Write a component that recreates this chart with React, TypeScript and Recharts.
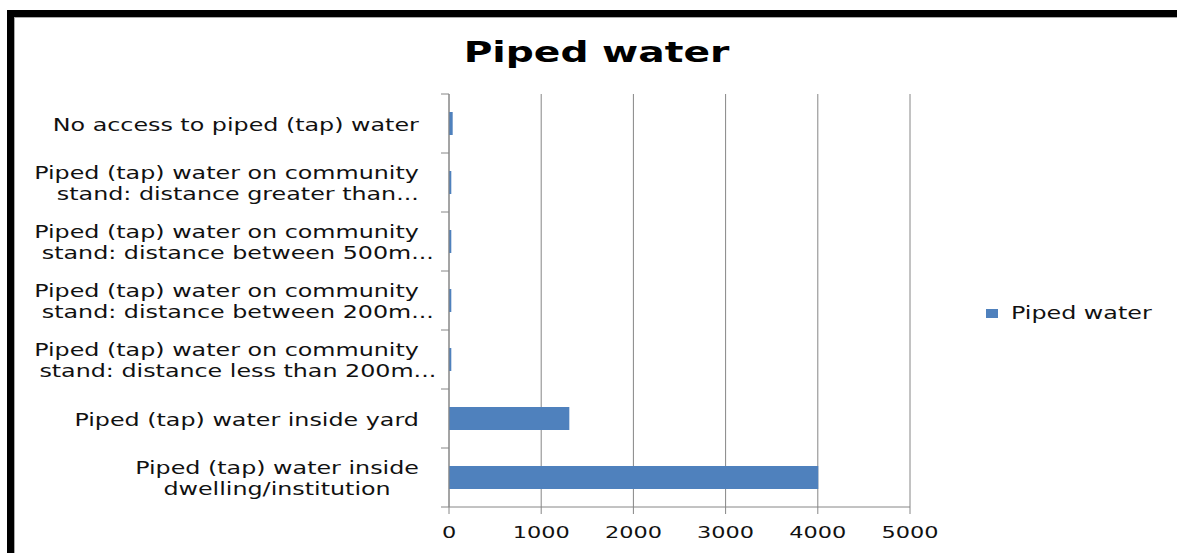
import { BarChart, Bar, XAxis, YAxis, CartesianGrid, Legend } from 'recharts';

// categories top to bottom, as they appear on the chart
const categories = [
  'No access to piped (tap) water',
  'Piped (tap) water on community\nstand: distance greater than...',
  'Piped (tap) water on community\nstand: distance between 500m...',
  'Piped (tap) water on community\nstand: distance between 200m...',
  'Piped (tap) water on community\nstand: distance less than 200m...',
  'Piped (tap) water inside yard',
  'Piped (tap) water inside\ndwelling/institution',
];
const pipedWater = [40, 25, 25, 25, 25, 1305, 4005];
const xTicks = [0, 1000, 2000, 3000, 4000, 5000];

const data = categories.map((name, i) => ({ name, value: pipedWater[i] }));

const BLUE = '#4F81BD';
const AXIS = '#868686';
const FONT = '"DejaVu Sans", sans-serif';
const SX = 1.4; // the source picture is stretched sideways

let ctx: CanvasRenderingContext2D | null = null;
function textWidth(s: string, size: number) {
  if (!ctx) ctx = document.createElement('canvas').getContext('2d');
  if (!ctx) return s.length * size * 0.6;
  ctx.font = `${size}px "DejaVu Sans"`;
  return ctx.measureText(s).width;
}

// width of a line as Excel centres it: a cut-off "..." tail is left out
const coreWidth = (l: string) => textWidth(l.replace(/\.\.\.$/, ''), 17) * SX;

function CategoryTick(props: any) {
  const { x, y, payload, index } = props;
  const half = payload.offset ?? 29.5;
  const lines = String(payload.value).split('\n');
  const right = x - 30;
  const maxW = Math.max(...lines.map(coreWidth));
  const cx = right - maxW / 2;
  const first = y + 7 - (lines.length - 1) * 10.5;
  return (
    <g>
      <line x1={x - 8} x2={x} y1={y - half} y2={y - half} stroke={AXIS} />
      {index === categories.length - 1 && (
        <line x1={x - 8} x2={x} y1={y + half} y2={y + half} stroke={AXIS} />
      )}
      {lines.map((l, i) => (
        <text
          key={i}
          transform={`translate(${cx - coreWidth(l) / 2},${first + i * 21}) scale(${SX},1)`}
          textAnchor="start"
          fontFamily={FONT}
          fontSize={17}
          fill="#111"
        >
          {l}
        </text>
      ))}
    </g>
  );
}

function ValueTick(props: any) {
  const { x, y, payload } = props;
  return (
    <text
      transform={`translate(${x},${y + 24}) scale(${SX},1)`}
      textAnchor="middle"
      fontFamily={FONT}
      fontSize={16}
      fill="#111"
    >
      {payload.value}
    </text>
  );
}

function LegendContent() {
  return (
    <div style={{ display: 'flex', alignItems: 'center', height: 20 }}>
      <span style={{ display: 'inline-block', width: 12, height: 9, background: BLUE }} />
      <span
        style={{
          display: 'inline-block',
          marginLeft: 13,
          fontFamily: FONT,
          fontSize: 17,
          color: '#111',
          whiteSpace: 'nowrap',
          transform: `scaleX(${SX})`,
          transformOrigin: 'left center',
        }}
      >
        Piped water
      </span>
    </div>
  );
}

export default function App() {
  return (
    <div style={{ position: 'absolute', left: 0, top: 0, width: 1177, height: 553, background: '#fff', overflow: 'hidden' }}>
      <div style={{ position: 'absolute', left: 7, top: 10, width: 1200, height: 600, borderTop: '7px solid #000', borderLeft: '7px solid #000' }} />
      <div style={{ position: 'absolute', left: 14, top: 17, width: 1200, height: 600, borderTop: '1px solid #aaa', borderLeft: '1px solid #aaa' }} />
      <BarChart
        width={1177}
        height={553}
        data={data}
        layout="vertical"
        margin={{ top: 94, right: 267, bottom: 0, left: 0 }}
        barCategoryGap={0}
      >
        <CartesianGrid horizontal={false} stroke={AXIS} strokeDasharray="" />
        <XAxis
          type="number"
          domain={[0, 5000]}
          ticks={xTicks}
          height={46}
          stroke={AXIS}
          tickSize={7}
          tickMargin={0}
          tick={<ValueTick />}
        />
        <YAxis
          type="category"
          dataKey="name"
          width={449}
          stroke={AXIS}
          tickLine={false}
          tickSize={0}
          tickMargin={0}
          interval={0}
          tick={<CategoryTick />}
        />
        <Legend
          layout="horizontal"
          verticalAlign="middle"
          align="center"
          content={<LegendContent />}
          wrapperStyle={{ left: 986, top: 303, width: 190, right: 'auto', bottom: 'auto' }}
        />
        <Bar dataKey="value" name="Piped water" fill={BLUE} barSize={23} isAnimationActive={false} />
      </BarChart>
      <svg width={1177} height={90} style={{ position: 'absolute', left: 0, top: 0, pointerEvents: 'none' }}>
        <text
          transform={`translate(596.5,62) scale(${SX},1)`}
          textAnchor="middle"
          fontFamily={FONT}
          fontWeight="bold"
          fontSize={28}
          fill="#000"
        >
          Piped water
        </text>
      </svg>
    </div>
  );
}
